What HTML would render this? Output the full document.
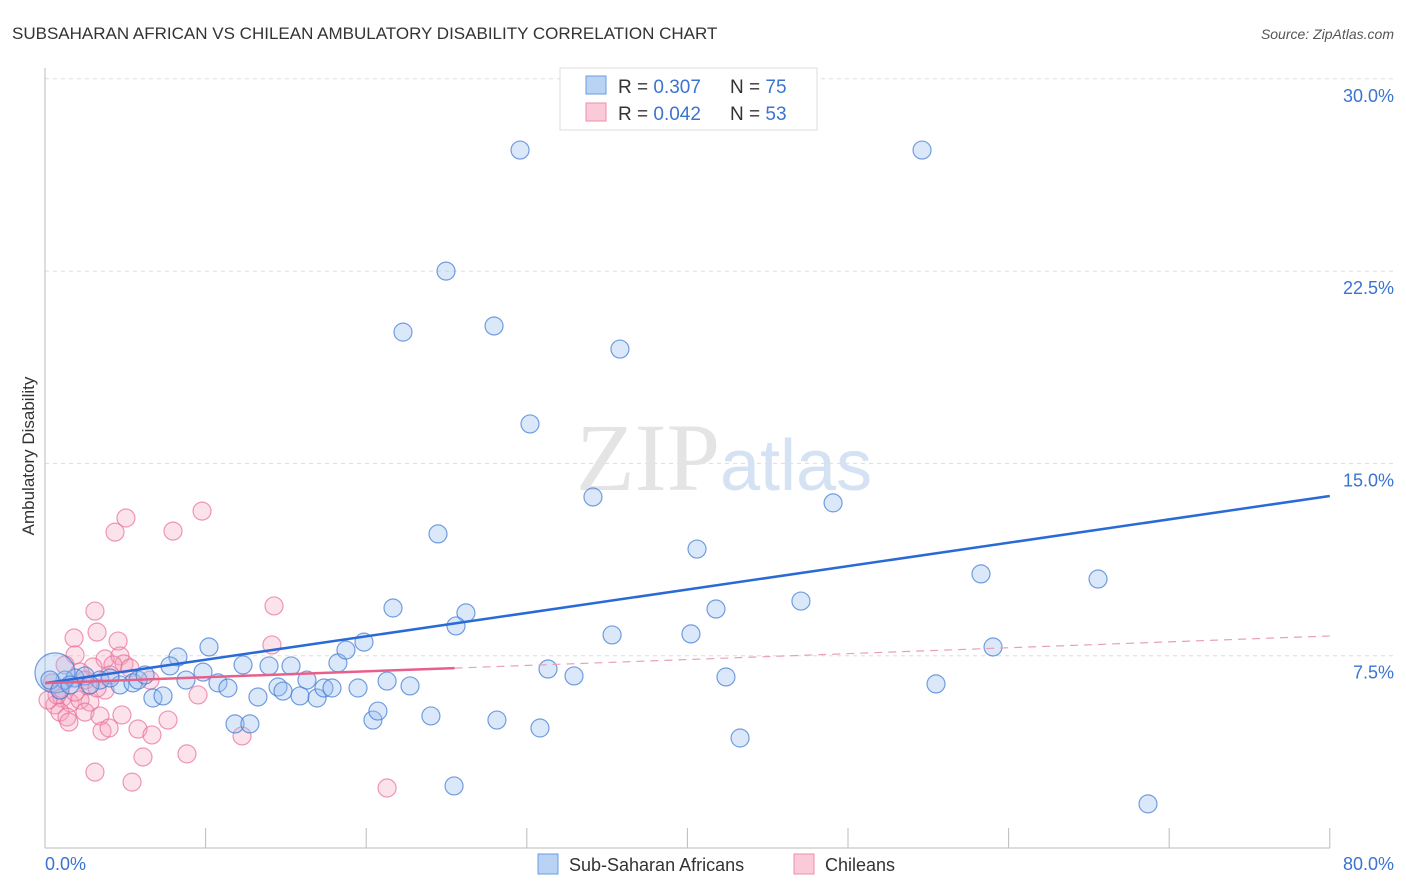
<!DOCTYPE html>
<html><head><meta charset="utf-8"><style>
body{margin:0;background:#fff;font-family:"Liberation Sans",sans-serif;}
svg{display:block}
</style></head><body>
<svg width="1406" height="892" xmlns="http://www.w3.org/2000/svg">
<text x="12" y="39" font-size="17" fill="#333">SUBSAHARAN AFRICAN VS CHILEAN AMBULATORY DISABILITY CORRELATION CHART</text>
<text x="1394" y="39" font-size="14" fill="#555" font-style="italic" text-anchor="end">Source: ZipAtlas.com</text>
<g id="grid"></g>
<text x="720" y="490" font-family="Liberation Serif,serif" font-size="96" fill="#e4e4e4" text-anchor="end">ZIP</text>
<text x="720" y="490" font-size="72" fill="#d5e2f4">atlas</text>
<line x1="45" y1="68" x2="45" y2="848" stroke="#bbb"/>
<line x1="45" y1="848" x2="1330" y2="848" stroke="#bbb"/>
<text transform="translate(34,456) rotate(-90)" font-size="17" fill="#333" text-anchor="middle">Ambulatory Disability</text>
<text x="45" y="870" font-size="18" fill="#3b73d1">0.0%</text>
<text x="1394" y="870" font-size="18" fill="#3b73d1" text-anchor="end">80.0%</text>
<g id="points"></g>
<g id="lines"></g>
<g>
<rect x="560" y="68" width="257" height="62" fill="#fff" stroke="#ddd"/>
<rect x="586" y="76" width="20" height="18" fill="#b9d3f5" stroke="#6a9de0"/>
<rect x="586" y="103" width="20" height="18" fill="#fbcad8" stroke="#ee8fae"/>
<text x="618" y="93" font-size="19" fill="#333">R = <tspan fill="#3b73d1">0.307</tspan><tspan x="730">N = </tspan><tspan fill="#3b73d1">75</tspan></text>
<text x="618" y="120" font-size="19" fill="#333">R = <tspan fill="#3b73d1">0.042</tspan><tspan x="730">N = </tspan><tspan fill="#3b73d1">53</tspan></text>
</g>
<g>
<rect x="538" y="854" width="20" height="20" fill="#b9d3f5" stroke="#6a9de0"/>
<text x="569" y="871" font-size="18" fill="#333">Sub-Saharan Africans</text>
<rect x="794" y="854" width="20" height="20" fill="#fbcad8" stroke="#ee8fae"/>
<text x="825" y="871" font-size="18" fill="#333">Chileans</text>
</g>
</svg>
<script>
const yTicks=[7.5,15,22.5,30];
const xTicks=[0,10,20,30,40,50,60,70,80];
const bluePx=[[520,150],[922,150],[446,271],[403,332],[494,326],[620,349],[530,424],[593,497],[833,503],[438,534],[697,549],[981,574],[1098,579],[393,608],[466,613],[716,609],[801,601],[456,626],[612,635],[691,634],[364,642],[993,647],[209,647],[178,657],[338,663],[346,650],[243,665],[269,666],[291,666],[170,666],[203,672],[548,669],[574,676],[726,677],[936,684],[387,681],[186,680],[218,683],[228,688],[278,687],[307,680],[283,691],[300,696],[317,698],[324,688],[332,688],[358,688],[410,686],[153,698],[163,696],[258,697],[235,724],[250,724],[373,720],[378,711],[431,716],[497,720],[540,728],[740,738],[454,786],[1148,804],[120,685],[133,683],[100,680],[110,678],[138,680],[65,680],[75,678],[85,676],[55,673],[50,680],[145,675],[90,685],[60,690],[70,685]];
const pinkPx=[[126,518],[202,511],[115,532],[173,531],[274,606],[95,611],[97,632],[74,638],[118,641],[272,645],[75,655],[105,659],[120,656],[124,664],[93,667],[113,665],[80,672],[150,680],[88,686],[105,690],[198,695],[62,698],[70,703],[55,705],[80,700],[90,702],[60,712],[85,712],[122,715],[67,717],[100,716],[168,720],[69,722],[102,731],[109,728],[138,729],[152,735],[242,736],[143,757],[187,754],[95,772],[132,782],[387,788],[60,690],[52,683],[65,665],[110,675],[130,668],[85,680],[97,688],[57,695],[75,692],[48,700]];
// convert estimated readings to data values (percent)
const blueX=bluePx.map(p=>+((p[0]-45)/16.06).toFixed(2));
const blueY=bluePx.map(p=>+((848-p[1])/25.64).toFixed(2));
const pinkX=pinkPx.map(p=>+((p[0]-45)/16.06).toFixed(2));
const pinkY=pinkPx.map(p=>+((848-p[1])/25.64).toFixed(2));
const blueTrend=[6.43,13.73];
const pinkTrend=[6.43,8.27];
const pinkSolidEnd=25.5;
const NS='http://www.w3.org/2000/svg';
const xs=v=>45+v*16.06, ys=v=>848-v*25.64;
function mk(t,a){const e=document.createElementNS(NS,t);for(const k in a)e.setAttribute(k,a[k]);return e;}
const grid=document.getElementById('grid');
yTicks.forEach(t=>{
 const l=mk('line',{x1:45,x2:1394,y1:ys(t),y2:ys(t),stroke:'#ddd','stroke-dasharray':'4,4'});
 
 
 grid.appendChild(l);
 const tx=mk('text',{x:1394,y:ys(t)+23,'font-size':18,fill:'#3b73d1','text-anchor':'end'});
 tx.textContent=t.toFixed(1)+'%';
 
 
 grid.appendChild(tx);
});
xTicks.forEach(t=>{
 const l=mk('line',{x1:xs(t),x2:xs(t),y1:828,y2:848,stroke:'#bbb'});
 
 
 grid.appendChild(l);
});
const pts=document.getElementById('points');
for(let i=0;i<pinkX.length;i++){
 const c=mk('circle',{cx:xs(pinkX[i]),cy:ys(pinkY[i]),r:9,fill:'rgba(246,160,188,0.3)',stroke:'rgba(232,110,150,0.7)','stroke-width':1.2});
 
 
 pts.appendChild(c);
}
for(let i=0;i<blueX.length;i++){
 const c=mk('circle',{cx:xs(blueX[i]),cy:ys(blueY[i]),r:i===blueX.length-6?20:9,fill:'rgba(150,190,240,0.35)',stroke:'rgba(60,120,210,0.7)','stroke-width':1.2});
 
 
 pts.appendChild(c);
}
const ln=document.getElementById('lines');
let a=mk('line',{x1:xs(0),y1:ys(blueTrend[0]),x2:xs(80),y2:ys(blueTrend[1]),stroke:'#2a6ad6','stroke-width':2.5});


ln.appendChild(a);
const pv=x=>pinkTrend[0]+(pinkTrend[1]-pinkTrend[0])*x/80;
let b=mk('line',{x1:xs(0),y1:ys(pv(0)),x2:xs(pinkSolidEnd),y2:ys(pv(pinkSolidEnd)),stroke:'#e8608a','stroke-width':2.5});


ln.appendChild(b);
let d=mk('line',{x1:xs(pinkSolidEnd),y1:ys(pv(pinkSolidEnd)),x2:xs(80),y2:ys(pv(80)),stroke:'#e8a0b8','stroke-width':1.2,'stroke-dasharray':'8,6'});


ln.appendChild(d);
</script>
</body></html>
